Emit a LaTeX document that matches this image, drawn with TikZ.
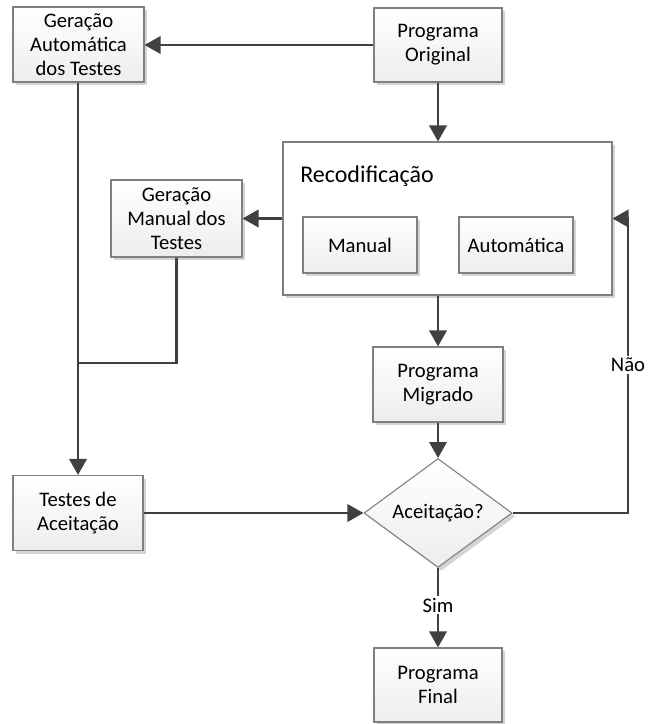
\documentclass[tikz,border=0pt]{standalone}
\usepackage{fontspec}
\setmainfont{Carlito}
\usetikzlibrary{shapes.geometric,arrows.meta,shadows}
\definecolor{boxline}{HTML}{7F7F7F}
\definecolor{arrcol}{HTML}{404040}
\definecolor{shad}{HTML}{D4D4D4}
\begin{document}
\begin{tikzpicture}[x=0.75pt,y=-0.75pt,
  font=\fontsize{15.5pt}{18pt}\selectfont,
  sh/.style={drop shadow={shadow xshift=2.5pt,shadow yshift=-2.5pt,fill=shad,opacity=1}},
  box/.style={draw=boxline,line width=0.8pt,top color=white,bottom color=gray!14,
    sh,align=center,inner sep=2pt},
  cont/.style={draw=boxline,line width=0.8pt,fill=white,sh},
  dia/.style={diamond,draw=boxline,line width=0.8pt,top color=white,bottom color=gray!14,
    sh,inner sep=0pt,minimum width=111pt,minimum height=65.25pt},
  arr/.style={draw=arrcol,line width=2pt,-{Triangle[length=12pt,width=13pt]}},
  ln/.style={draw=arrcol,line width=2pt},
  lbl/.style={fill=white,inner sep=1.5pt}]
\useasboundingbox (0,0) rectangle (647,724);
% container
\node[cont,minimum width=246.75pt,minimum height=114.75pt] (recod) at (447.5,218.5) {};
\node[anchor=base west,inner sep=0pt,font=\fontsize{18pt}{21pt}\selectfont] (recodlbl) at (300,182) {Recodificação};
\node[box,minimum width=85.5pt,minimum height=42pt] (manual) at (360,245) {Manual};
\node[box,minimum width=85.5pt,minimum height=42pt] (autom) at (516,245) {Automática};
% boxes
\node[box,minimum width=98.25pt,minimum height=56.25pt] (gauto) at (78.5,44.5) {Geração\\Automática\\dos Testes};
\node[box,minimum width=96pt,minimum height=55.5pt] (porig) at (438,45) {Programa\\Original};
\node[box,minimum width=98.25pt,minimum height=57.75pt] (gman) at (176.5,218.5) {Geração\\Manual dos\\Testes};
\node[box,minimum width=97.5pt,minimum height=56.25pt] (pmig) at (438,384.5) {Programa\\Migrado};
\node[dia] (diam) at (438,513) {Aceitação?};
\node[box,minimum width=97.5pt,minimum height=56.25pt] (testes) at (78,513) {Testes de\\Aceitação};
\node[box,minimum width=96pt,minimum height=55.5pt] (pfinal) at (438,685) {Programa\\Final};
% connectors
\coordinate (join) at (78,363);
\coordinate (rt) at (628,218.5);
\draw[arr] (porig.west) -- (gauto.east |- porig.west);
\draw[arr] (porig.south) -- (recod.north -| porig.south);
\draw[arr] (recod.west) -- (gman.east);
\draw[arr] (recod.south -| pmig.north) -- (pmig.north);
\draw[arr] (pmig.south) -- (diam.north);
\draw[arr] (gauto.south -| testes.north) -- (testes.north);
\draw[ln] (gman.south) |- (join);
\draw[arr] (testes.east) -- (diam.west);
\draw[arr] (diam.east) -| (rt) -- (recod.east);
\node[lbl] (nao) at (628,365) {Não};
\draw[arr] (diam.south) -- (pfinal.north);
\node[lbl] (sim) at (438,605) {Sim};
\end{tikzpicture}
\end{document}
